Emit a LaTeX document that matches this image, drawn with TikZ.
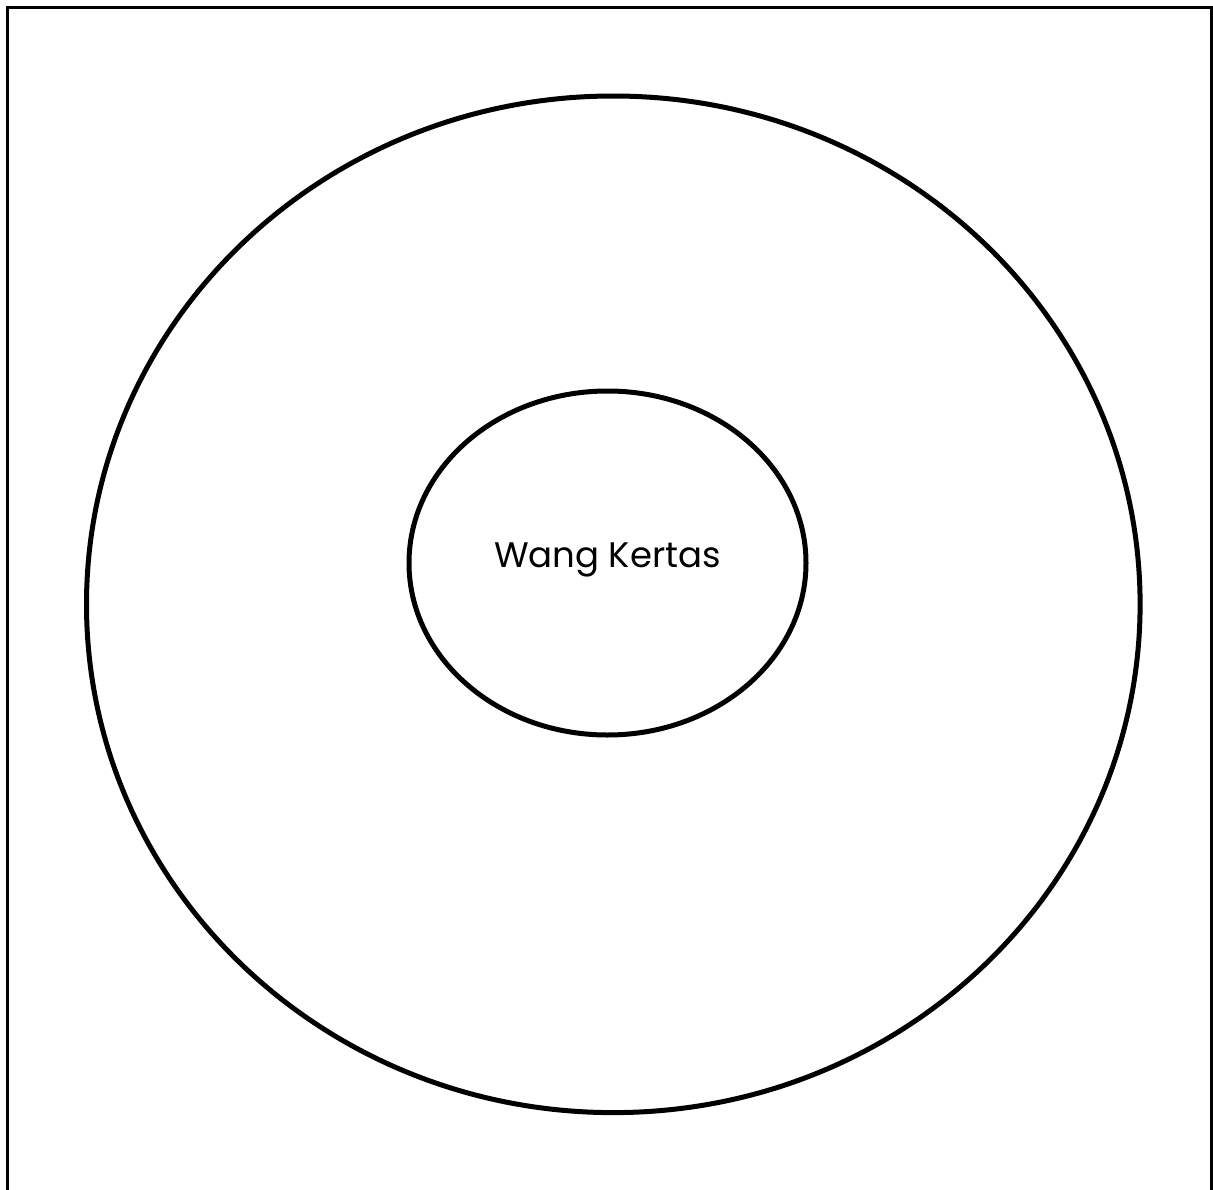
\documentclass[tikz,border=0pt]{standalone}
\usepackage{fontspec}
\usetikzlibrary{shapes.geometric}
\setmainfont{Poppins}
\begin{document}
\begin{tikzpicture}[x=1pt,y=-1pt,
  ring/.style={draw=black,line width=5pt,ellipse,inner sep=0pt},
  frame/.style={draw=black,line width=2.5pt},
  label/.style={font=\fontsize{35.5}{42}\selectfont,text=black,inner sep=0pt,anchor=base}]
\useasboundingbox (0,0) rectangle (1213,1189);
\coordinate (tl) at (7.5,7.5);
\coordinate (tr) at (1211.5,7.5);
\coordinate (bl) at (7.5,1195);
\coordinate (br) at (1211.5,1195);
\draw[frame] (bl) -- (tl) -- (tr) -- (br);
\node[ring,minimum width=1053.6pt,minimum height=1016.6pt] (outer) at (613.3,604.3) {};
\node[ring,minimum width=397pt,minimum height=344pt] (inner) at (607.5,563) {};
\node[label] (txt) at (607.5,567) {Wang Kertas};
\end{tikzpicture}
\end{document}
